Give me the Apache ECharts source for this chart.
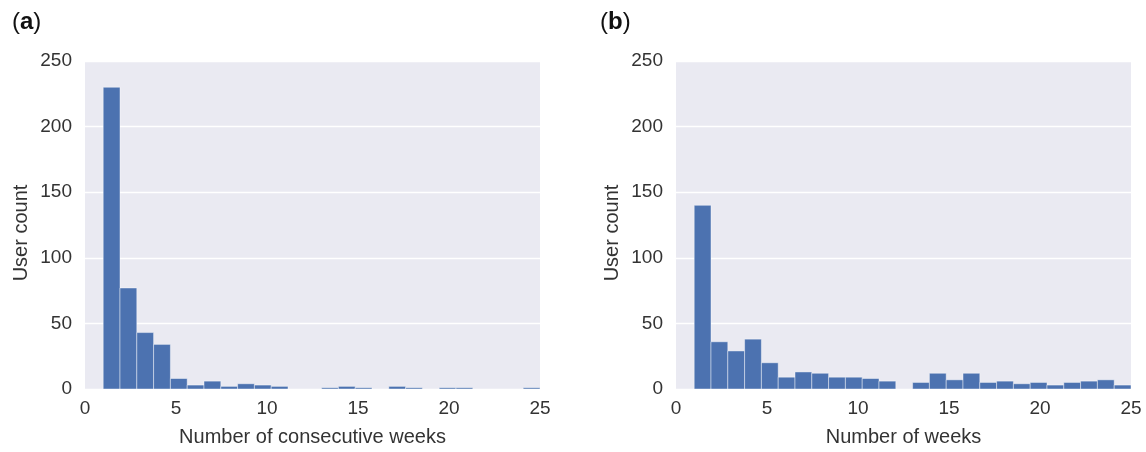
<!DOCTYPE html>
<html>
<head>
<meta charset="utf-8">
<script src="https://cdn.jsdelivr.net/npm/echarts@6/dist/echarts.min.js"></script>
<style>
html,body{margin:0;padding:0;background:#fff;}
#chart{width:1146px;height:452px;}
</style>
</head>
<body>
<div id="chart"></div>
<script>
// Histogram range and bin count (26 equal bins between 1 and 25)
const binStart = 1;
const binEnd = 25;
const binCount = 26;

// Panel (a): Number of consecutive weeks
const countsA = [230, 77, 43, 34, 8, 3, 6, 2, 4, 3, 2, 0, 0, 1, 2, 1, 0, 2, 1, 0, 1, 1, 0, 0, 0, 1];
// Panel (b): Number of weeks
const countsB = [140, 36, 29, 38, 20, 9, 13, 12, 9, 9, 8, 6, 0, 5, 12, 7, 12, 5, 6, 4, 5, 3, 5, 6, 7, 3];

const xTicks = [0, 5, 10, 15, 20, 25];
const yTicks = [0, 50, 100, 150, 200, 250];
const titleA = 'Number of consecutive weeks';
const titleB = 'Number of weeks';
const yTitle = 'User count';
const panelLabels = ['a', 'b'];

const binWidth = (binEnd - binStart) / binCount;
function toBins(counts) {
  return counts.map((c, i) => [binStart + i * binWidth, binStart + (i + 1) * binWidth, c]);
}

const txt = '#333333';
const font = 'Liberation Sans, Arial, sans-serif';

function renderItem(params, api) {
  const x0 = api.value(0), x1 = api.value(1), y = api.value(2);
  if (y <= 0) return;
  const p0 = api.coord([x0, y]);
  const p1 = api.coord([x1, 0]);
  return {
    type: 'rect',
    shape: { x: p0[0], y: p0[1], width: p1[0] - p0[0], height: p1[1] - p0[1] },
    style: { fill: '#4C72B0', stroke: 'rgba(255,255,255,0.55)', lineWidth: 0.8 }
  };
}

function xAxis(idx, name) {
  return {
    gridIndex: idx, type: 'value', min: xTicks[0], max: xTicks[xTicks.length - 1], interval: 5,
    name: name, nameLocation: 'middle', nameGap: 38,
    nameTextStyle: { color: txt, fontSize: 20, fontFamily: font },
    axisLine: { show: false }, axisTick: { show: false }, splitLine: { show: false },
    axisLabel: { color: txt, fontSize: 19, fontFamily: font, margin: 10 }
  };
}
function yAxis(idx) {
  return {
    gridIndex: idx, type: 'value', min: yTicks[0], max: yTicks[yTicks.length - 1], interval: 50,
    name: yTitle, nameLocation: 'middle', nameGap: 54,
    nameTextStyle: { color: txt, fontSize: 20, fontFamily: font, padding: [0, 16, 0, 0] },
    axisLine: { show: false }, axisTick: { show: false },
    splitLine: { show: true, lineStyle: { color: '#ffffff', width: 1.3 } },
    axisLabel: { color: txt, fontSize: 19, fontFamily: font, margin: 13 }
  };
}

const chart = echarts.init(document.getElementById('chart'), null, { renderer: 'canvas' });
chart.setOption({
  backgroundColor: '#ffffff',
  animation: false,
  title: panelLabels.map((l, i) => ({
    text: '(' + '{b|' + l + '})',
    left: i === 0 ? 7 : 595, top: 5,
    textStyle: {
      color: '#111', fontSize: 24, fontWeight: 'normal', fontFamily: font,
      rich: { b: { fontWeight: 'bold', fontSize: 24, color: '#111', fontFamily: font } }
    }
  })),
  grid: [
    { left: 85, top: 61, width: 455, height: 331, show: true, backgroundColor: '#EAEAF2', borderWidth: 0 },
    { left: 676, top: 61, width: 455, height: 331, show: true, backgroundColor: '#EAEAF2', borderWidth: 0 }
  ],
  xAxis: [xAxis(0, titleA), xAxis(1, titleB)],
  yAxis: [yAxis(0), yAxis(1)],
  series: [
    { type: 'custom', xAxisIndex: 0, yAxisIndex: 0, renderItem: renderItem, encode: { x: [0, 1], y: 2 }, data: toBins(countsA) },
    { type: 'custom', xAxisIndex: 1, yAxisIndex: 1, renderItem: renderItem, encode: { x: [0, 1], y: 2 }, data: toBins(countsB) }
  ]
});
</script>
</body>
</html>
